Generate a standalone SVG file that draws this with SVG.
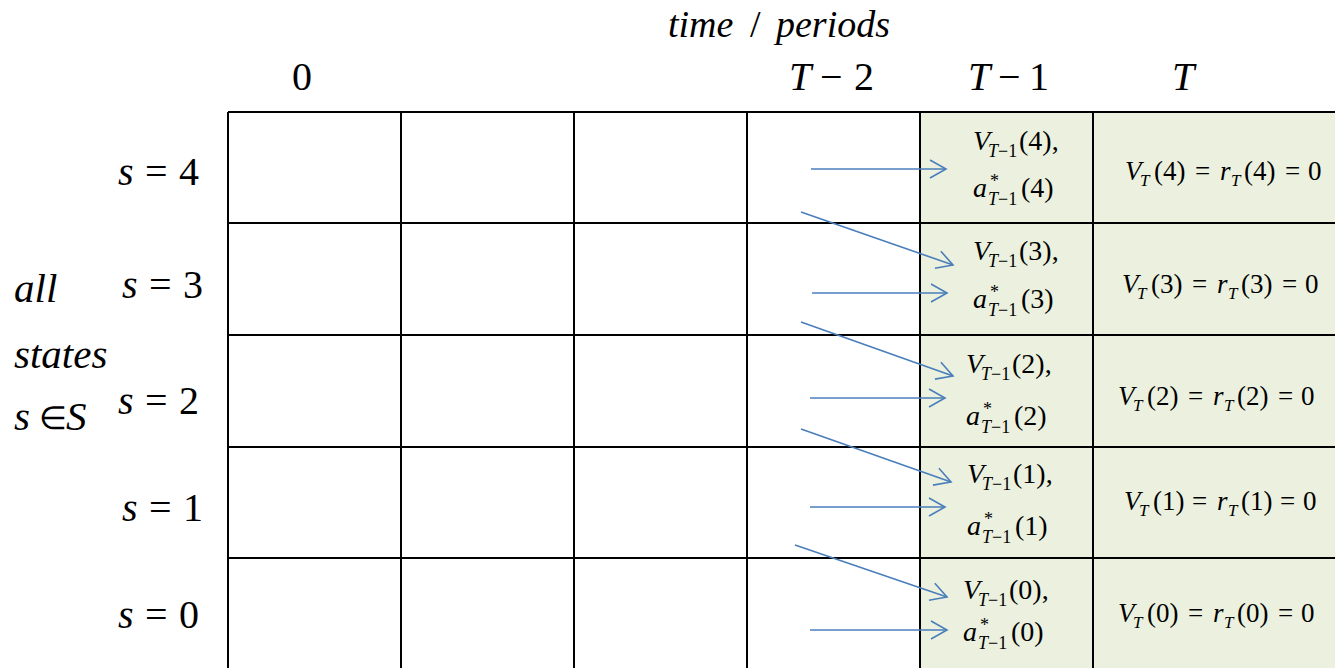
<svg xmlns="http://www.w3.org/2000/svg" width="1335" height="668" viewBox="0 0 1335 668">
<style>
.t{fill:#000}
.i{font-style:italic}
.h{font-size:40px}
.cell{font-size:28px}
.sub{font-size:18px}
.rc{font-size:27px}
.rsub{font-size:17px}
.grid{stroke:#000;stroke-width:2;fill:none}
.conn{stroke:#4A7EBB;stroke-width:1.6;fill:none}
</style>
<defs>
<marker id="arr" viewBox="-18 -11 20 22" refX="0" refY="0" markerWidth="20" markerHeight="22" markerUnits="userSpaceOnUse" orient="auto">
<path d="M -16 -9 L 0 0 L -16 9" fill="none" stroke="#4A7EBB" stroke-width="1.6"/>
</marker>
</defs>
<rect width="1335" height="668" fill="#fff"/>
<g font-family="Liberation Serif, Times New Roman, serif">
<g id="header">
<text class="t i" x="668" y="37" font-size="38">time</text>
<text class="t" x="750" y="37" font-size="38">/</text>
<text class="t i" x="776" y="37" font-size="38">periods</text>
<text class="t h" x="292" y="90">0</text>
<text class="t h" x="789" y="90"><tspan class="i">T</tspan><tspan x="820">−</tspan><tspan x="854">2</tspan></text>
<text class="t h" x="968" y="90"><tspan class="i">T</tspan><tspan x="998">−</tspan><tspan x="1029">1</tspan></text>
<text class="t h i" x="1172" y="90">T</text>
</g>

<g id="left-label">
<text class="t i" x="14" y="302" font-size="41">all</text>
<text class="t i" x="14" y="368" font-size="41">states</text>
<text class="t i" x="14" y="430" font-size="41">s</text>
<text class="t" x="39" y="429" font-size="32">∈</text>
<text class="t i" x="66" y="430" font-size="41">S</text>
</g>

<g id="row-labels">
<text class="t h" x="118" y="185"><tspan class="i">s</tspan><tspan x="145">=</tspan><tspan x="179">4</tspan></text>
<text class="t h" x="122" y="298"><tspan class="i">s</tspan><tspan x="149">=</tspan><tspan x="183">3</tspan></text>
<text class="t h" x="118" y="414"><tspan class="i">s</tspan><tspan x="145">=</tspan><tspan x="179">2</tspan></text>
<text class="t h" x="122" y="521"><tspan class="i">s</tspan><tspan x="149">=</tspan><tspan x="183">1</tspan></text>
<text class="t h" x="118" y="628"><tspan class="i">s</tspan><tspan x="145">=</tspan><tspan x="179">0</tspan></text>
</g>

<g id="grid">
<rect x="920" y="112" width="415" height="556" fill="#EBF1DE"/>
<path class="grid" d="M228 112 H1335 M228 223 H1335 M228 335 H1335 M228 447 H1335 M228 558 H1335 M228 112 V668 M401 112 V668 M574 112 V668 M747 112 V668 M920 112 V668 M1093 112 V668"/>
</g>

<g id="col-T1">
<g id="n-T1-4" transform="translate(973,150)">
<text class="t cell i" x="0" y="0">V</text>
<text class="t sub" x="15" y="7"><tspan class="i">T</tspan>−1</text>
<text class="t cell" x="46" y="0">(4),</text>
<text class="t cell i" x="0" y="47">a</text>
<text class="t sub" x="17" y="37">*</text>
<text class="t sub" x="15" y="55"><tspan class="i">T</tspan>−1</text>
<text class="t cell" x="48" y="47">(4)</text>
</g>
<g id="n-T1-3" transform="translate(973,260)">
<text class="t cell i" x="0" y="0">V</text>
<text class="t sub" x="15" y="7"><tspan class="i">T</tspan>−1</text>
<text class="t cell" x="46" y="0">(3),</text>
<text class="t cell i" x="0" y="48">a</text>
<text class="t sub" x="17" y="38">*</text>
<text class="t sub" x="15" y="56"><tspan class="i">T</tspan>−1</text>
<text class="t cell" x="48" y="48">(3)</text>
</g>
<g id="n-T1-2" transform="translate(966,373)">
<text class="t cell i" x="0" y="0">V</text>
<text class="t sub" x="15" y="7"><tspan class="i">T</tspan>−1</text>
<text class="t cell" x="46" y="0">(2),</text>
<text class="t cell i" x="0" y="52">a</text>
<text class="t sub" x="17" y="42">*</text>
<text class="t sub" x="15" y="60"><tspan class="i">T</tspan>−1</text>
<text class="t cell" x="48" y="52">(2)</text>
</g>
<g id="n-T1-1" transform="translate(967,483)">
<text class="t cell i" x="0" y="0">V</text>
<text class="t sub" x="15" y="7"><tspan class="i">T</tspan>−1</text>
<text class="t cell" x="46" y="0">(1),</text>
<text class="t cell i" x="0" y="52">a</text>
<text class="t sub" x="17" y="42">*</text>
<text class="t sub" x="15" y="60"><tspan class="i">T</tspan>−1</text>
<text class="t cell" x="48" y="52">(1)</text>
</g>
<g id="n-T1-0" transform="translate(963,599)">
<text class="t cell i" x="0" y="0">V</text>
<text class="t sub" x="15" y="7"><tspan class="i">T</tspan>−1</text>
<text class="t cell" x="46" y="0">(0),</text>
<text class="t cell i" x="0" y="42">a</text>
<text class="t sub" x="17" y="32">*</text>
<text class="t sub" x="15" y="50"><tspan class="i">T</tspan>−1</text>
<text class="t cell" x="48" y="42">(0)</text>
</g>
</g>

<g id="col-T">
<g id="n-T-4" transform="translate(1125,180)">
<text class="t rc i" x="0" y="0">V</text><text class="t rsub i" x="15" y="6">T</text>
<text class="t rc" x="29" y="0">(4)</text><text class="t rc" x="70" y="0">=</text>
<text class="t rc i" x="95" y="0">r</text><text class="t rsub i" x="106" y="6">T</text>
<text class="t rc" x="119" y="0">(4)</text><text class="t rc" x="160" y="0">=</text>
<text class="t rc" x="183" y="0">0</text>
</g>
<g id="n-T-3" transform="translate(1122,293)">
<text class="t rc i" x="0" y="0">V</text><text class="t rsub i" x="15" y="6">T</text>
<text class="t rc" x="29" y="0">(3)</text><text class="t rc" x="70" y="0">=</text>
<text class="t rc i" x="95" y="0">r</text><text class="t rsub i" x="106" y="6">T</text>
<text class="t rc" x="119" y="0">(3)</text><text class="t rc" x="160" y="0">=</text>
<text class="t rc" x="183" y="0">0</text>
</g>
<g id="n-T-2" transform="translate(1118,405)">
<text class="t rc i" x="0" y="0">V</text><text class="t rsub i" x="15" y="6">T</text>
<text class="t rc" x="29" y="0">(2)</text><text class="t rc" x="70" y="0">=</text>
<text class="t rc i" x="95" y="0">r</text><text class="t rsub i" x="106" y="6">T</text>
<text class="t rc" x="119" y="0">(2)</text><text class="t rc" x="160" y="0">=</text>
<text class="t rc" x="183" y="0">0</text>
</g>
<g id="n-T-1" transform="translate(1124,510)">
<text class="t rc i" x="0" y="0">V</text><text class="t rsub i" x="15" y="6">T</text>
<text class="t rc" x="29" y="0">(1)</text><text class="t rc" x="68" y="0">=</text>
<text class="t rc i" x="93" y="0">r</text><text class="t rsub i" x="104" y="6">T</text>
<text class="t rc" x="117" y="0">(1)</text><text class="t rc" x="156" y="0">=</text>
<text class="t rc" x="179" y="0">0</text>
</g>
<g id="n-T-0" transform="translate(1118,622)">
<text class="t rc i" x="0" y="0">V</text><text class="t rsub i" x="15" y="6">T</text>
<text class="t rc" x="29" y="0">(0)</text><text class="t rc" x="70" y="0">=</text>
<text class="t rc i" x="95" y="0">r</text><text class="t rsub i" x="106" y="6">T</text>
<text class="t rc" x="119" y="0">(0)</text><text class="t rc" x="160" y="0">=</text>
<text class="t rc" x="183" y="0">0</text>
</g>
</g>
</g>

<g id="connectors">
<line class="conn" x1="811" y1="169" x2="946" y2="169" marker-end="url(#arr)"/>
<line class="conn" x1="801" y1="212" x2="953" y2="265" marker-end="url(#arr)"/>
<line class="conn" x1="812" y1="293" x2="947" y2="293" marker-end="url(#arr)"/>
<line class="conn" x1="801" y1="322" x2="953" y2="376" marker-end="url(#arr)"/>
<line class="conn" x1="810" y1="398" x2="945" y2="398" marker-end="url(#arr)"/>
<line class="conn" x1="801" y1="429" x2="951" y2="482" marker-end="url(#arr)"/>
<line class="conn" x1="810" y1="507" x2="945" y2="507" marker-end="url(#arr)"/>
<line class="conn" x1="795" y1="545" x2="947" y2="597" marker-end="url(#arr)"/>
<line class="conn" x1="810" y1="630" x2="947" y2="630" marker-end="url(#arr)"/>
</g>
</svg>
